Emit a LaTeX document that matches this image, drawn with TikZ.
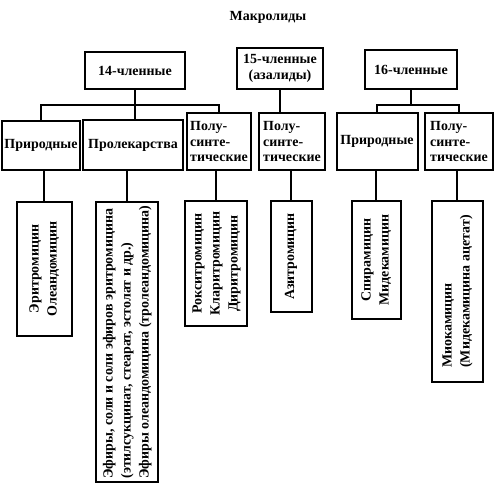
\documentclass[tikz,border=0pt]{standalone}
\usepackage{fontspec}
\setmainfont{Liberation Serif}
\usepackage{graphicx}
\begin{document}
\begin{tikzpicture}[x=1bp,y=-1bp,
  box/.style={draw,line width=2bp,inner sep=0pt,align=center,font=\bfseries\fontsize{14}{15.5}\selectfont},
  vbox/.style={box,font=\bfseries\fontsize{14}{18}\selectfont},
  conn/.style={line width=2bp}]
\useasboundingbox (0,0) rectangle (500,500);
\node[font=\bfseries\fontsize{14}{16}\selectfont] (title) at (268,17) {Макролиды};
% top level
\node[box,minimum width=100bp,minimum height=37bp] (n14) at (135,70.5) {14-членные};
\node[box,minimum width=86bp,minimum height=41bp] (n15) at (280,68.5) {15-членные\\(азалиды)};
\node[box,minimum width=92bp,minimum height=39bp] (n16) at (411,69.5) {16-членные};
% second level
\node[box,minimum width=78bp,minimum height=49bp] (p1) at (41,145.5) {Природные};
\node[box,minimum width=100bp,minimum height=50bp] (p2) at (133,145) {Пролекарства};
\node[box,minimum width=64bp,minimum height=57bp,align=left] (p3) at (219,141.5) {Полу-\\синте-\\тические};
\node[box,minimum width=66bp,minimum height=57bp,align=left] (p4) at (292,141.5) {Полу-\\синте-\\тические};
\node[box,minimum width=81bp,minimum height=57bp] (p5) at (377,141.5) {Природные};
\node[box,minimum width=68bp,minimum height=57bp,align=left] (p6) at (459,141.5) {Полу-\\синте-\\тические};
% third level
\node[vbox,minimum width=55bp,minimum height=134bp] (q1) at (44,269) {\rotatebox{90}{\begin{tabular}{@{}c@{}}Эритромицин\\Олеандомицин\end{tabular}}};
\node[vbox,minimum width=62bp,minimum height=280bp] (q2) at (127,342) {\rotatebox{90}{\begin{tabular}{@{}l@{}}Эфиры, соли и соли эфиров эритромицина\\(этилсукцинат, стеарат, эстолат и др.)\\Эфиры олеандомицина (тролеандомицина)\end{tabular}}};
\node[vbox,minimum width=62bp,minimum height=125bp] (q3) at (216,263.5) {\rotatebox{90}{\begin{tabular}{@{}c@{}}Рокситромицин\\Кларитромицин\\Диритромицин\end{tabular}}};
\node[vbox,minimum width=41bp,minimum height=111bp] (q4) at (291,256.5) {\rotatebox{90}{Азитромицин}};
\node[vbox,minimum width=49bp,minimum height=118bp] (q5) at (376,260) {\rotatebox{90}{\begin{tabular}{@{}c@{}}Спирамицин\\Мидекамицин\end{tabular}}};
\node[vbox,minimum width=51bp,minimum height=181bp] (q6) at (457,291.5) {\rotatebox{90}{\begin{tabular}{@{}l@{}}Миокамицин\\(Мидекамицина ацетат)\end{tabular}}};
% connectors
\coordinate (j14) at ([yshift=-15bp]n14.south);
\coordinate (j16) at ([yshift=-15bp]n16.south);
\draw[conn] (n14.south) -- (j14);
\draw[conn] (p1.north) |- (j14) -| (p3.north);
\draw[conn] (j14) -- (j14 |- p2.north);
\draw[conn] (n15.south) -- (n15.south |- p4.north);
\draw[conn] (n16.south) -- (j16);
\draw[conn] (p5.north) |- (j16) -| (p6.north);
\draw[conn] (q1.north |- p1.south) -- (q1.north);
\draw[conn] (q2.north |- p2.south) -- (q2.north);
\draw[conn] (q3.north |- p3.south) -- (q3.north);
\draw[conn] (q4.north |- p4.south) -- (q4.north);
\draw[conn] (q5.north |- p5.south) -- (q5.north);
\draw[conn] (q6.north |- p6.south) -- (q6.north);
\end{tikzpicture}
\end{document}
